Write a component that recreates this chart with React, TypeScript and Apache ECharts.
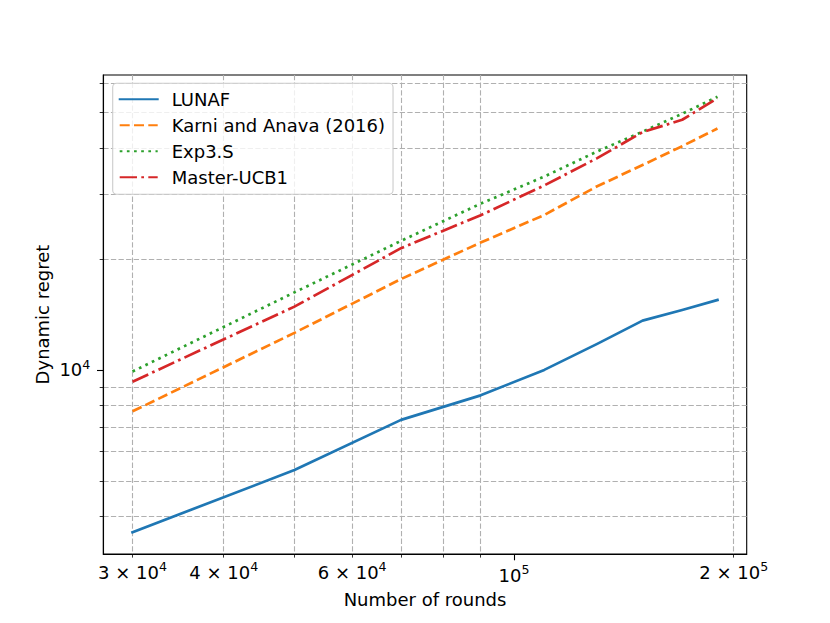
import React, { useEffect, useRef } from "react";
import * as echarts from "echarts";

// ---- data (log-log plot) ----
const rounds = [30000, 50000, 70000, 90000, 110000, 130000, 150000, 170000, 190000];
const lunaf = [3630, 5350, 7320, 8530, 10000, 11760, 13600, 14530, 15470];
const karni = [7720, 12600, 17630, 22140, 26300, 31460, 35920, 40410, 45110];
const exp3s = [9900, 16220, 22370, 28220, 33420, 39100, 44230, 49470, 55000];
const masterUcb1 = [9290, 14840, 21380, 26260, 31620, 37500, 44100, 47650, 54480];

const seriesNames = ["LUNAF", "Karni and Anava (2016)", "Exp3.S", "Master-UCB1"];

// ticks
const xMinorTicks = [30000, 40000, 50000, 60000, 70000, 80000, 90000, 200000];
const xMajorTicks = [100000];
const xMinorLabels = [30000, 40000, 60000, 200000];
const xMajorLabels = [100000];
const yMinorTicks = [4000, 5000, 6000, 7000, 8000, 9000, 20000, 30000, 40000, 50000, 60000];
const yMajorTicks = [10000];
const yMajorLabels = [10000];

const xTitle = "Number of rounds";
const yTitle = "Dynamic regret";

const FONT = "DejaVu Sans";
const COLORS = ["#1f77b4", "#ff7f0e", "#2ca02c", "#d62728"];

function logPad(vals: number[], frac = 0.05): [number, number] {
  const lo = Math.log10(Math.min(...vals));
  const hi = Math.log10(Math.max(...vals));
  const d = (hi - lo) * frac;
  return [Math.pow(10, lo - d), Math.pow(10, hi + d)];
}

function sciLabel(v: number): string {
  const e = Math.floor(Math.log10(v) + 1e-9);
  const m = Math.round(v / Math.pow(10, e));
  return m === 1 ? `{b|10}{s|${e}}` : `{b|${m} × 10}{s|${e}}`;
}

export default function App() {
  const ref = useRef<HTMLDivElement>(null);

  useEffect(() => {
    if (!ref.current) return;
    const chart = echarts.init(ref.current, null, { renderer: "svg" });

    const [xMin, xMax] = logPad(rounds);
    const [yMin, yMax] = logPad([...lunaf, ...karni, ...exp3s, ...masterUcb1]);

    const rich = {
      b: { fontFamily: FONT, fontSize: 18, lineHeight: 24, color: "#000" },
      s: { fontFamily: FONT, fontSize: 12.6, lineHeight: 13, color: "#000", verticalAlign: "top" },
    };
    const gridLine = {
      show: true,
      lineStyle: { color: "#b0b0b0", width: 1.1, type: [5.3, 2.3] },
    };
    const black = { color: "#000", width: 1.1 };

    const mk = (i: number, vals: number[], type: any, cap: string) => ({
      name: seriesNames[i],
      type: "line",
      xAxisIndex: 0,
      yAxisIndex: 0,
      data: rounds.map((x, k) => [x, vals[k]]),
      symbol: "none",
      showSymbol: false,
      z: 3,
      lineStyle: { color: COLORS[i], width: 2.7, type, cap, join: "round" },
      itemStyle: { color: COLORS[i] },
      emphasis: { disabled: true },
    });

    chart.setOption({
      animation: false,
      grid: {
        left: 103.3,
        right: 83.3,
        top: 75,
        bottom: 69,
        show: true,
        borderColor: "#000",
        borderWidth: 1.1,
        backgroundColor: "transparent",
        containLabel: false,
        outerBoundsMode: "none",
      },
      legend: {
        orient: "vertical",
        left: 112.7,
        top: 83.3,
        padding: [7, 8, 8, 6],
        itemGap: 8,
        itemWidth: 38,
        itemHeight: 14,
        backgroundColor: "rgba(255,255,255,0.8)",
        borderColor: "#cccccc",
        borderWidth: 1.1,
        borderRadius: 4,
        selectedMode: false,
        itemStyle: { opacity: 0, borderWidth: 0, color: "rgba(0,0,0,0)" },
        textStyle: { fontFamily: FONT, fontSize: 18, color: "#000", lineHeight: 18, padding: [0, 0, 0, 9] },
        data: seriesNames,
        z: 10,
      },
      xAxis: [
        {
          type: "log",
          min: xMin,
          max: xMax,
          position: "bottom",
          name: xTitle,
          nameLocation: "middle",
          nameGap: 36,
          nameMoveOverlap: false,
          nameTextStyle: { fontFamily: FONT, fontSize: 18, color: "#000" },
          axisLine: { show: true, lineStyle: black },
          axisTick: { show: true, customValues: xMinorTicks, length: 3.6, lineStyle: { color: "#000", width: 0.8 } },
          axisLabel: { show: true, customValues: xMinorLabels, margin: 6, formatter: sciLabel, rich },
          splitLine: gridLine,
          minorTick: { show: false },
          minorSplitLine: { show: false },
        },
        {
          type: "log",
          min: xMin,
          max: xMax,
          position: "bottom",
          axisLine: { show: false },
          axisTick: { show: true, customValues: xMajorTicks, length: 6.3, lineStyle: black },
          axisLabel: { show: true, customValues: xMajorLabels, margin: 9, formatter: sciLabel, rich },
          splitLine: { show: false },
        },
      ],
      yAxis: [
        {
          type: "log",
          min: yMin,
          max: yMax,
          position: "left",
          name: yTitle,
          nameLocation: "middle",
          nameGap: 52,
          nameMoveOverlap: false,
          nameTextStyle: { fontFamily: FONT, fontSize: 18, color: "#000" },
          axisLine: { show: true, lineStyle: black },
          axisTick: { show: true, customValues: yMinorTicks, length: 3.6, lineStyle: { color: "#000", width: 0.8 } },
          axisLabel: { show: false },
          splitLine: gridLine,
        },
        {
          type: "log",
          min: yMin,
          max: yMax,
          position: "left",
          axisLine: { show: false },
          axisTick: { show: true, customValues: yMajorTicks, length: 6.3, lineStyle: black },
          axisLabel: { show: true, customValues: yMajorLabels, margin: 13, formatter: sciLabel, rich },
          splitLine: { show: false },
        },
      ],
      series: [
        mk(0, lunaf, "solid", "square"),
        mk(1, karni, [10, 4.3], "butt"),
        mk(2, exp3s, [2.7, 4.46], "butt"),
        mk(3, masterUcb1, [17.3, 4.3, 2.7, 4.3], "butt"),
      ],
    });

    return () => chart.dispose();
  }, []);

  return (
    <div
      ref={ref}
      style={{ position: "absolute", left: 0, top: 0, width: 830, height: 623 }}
    />
  );
}
